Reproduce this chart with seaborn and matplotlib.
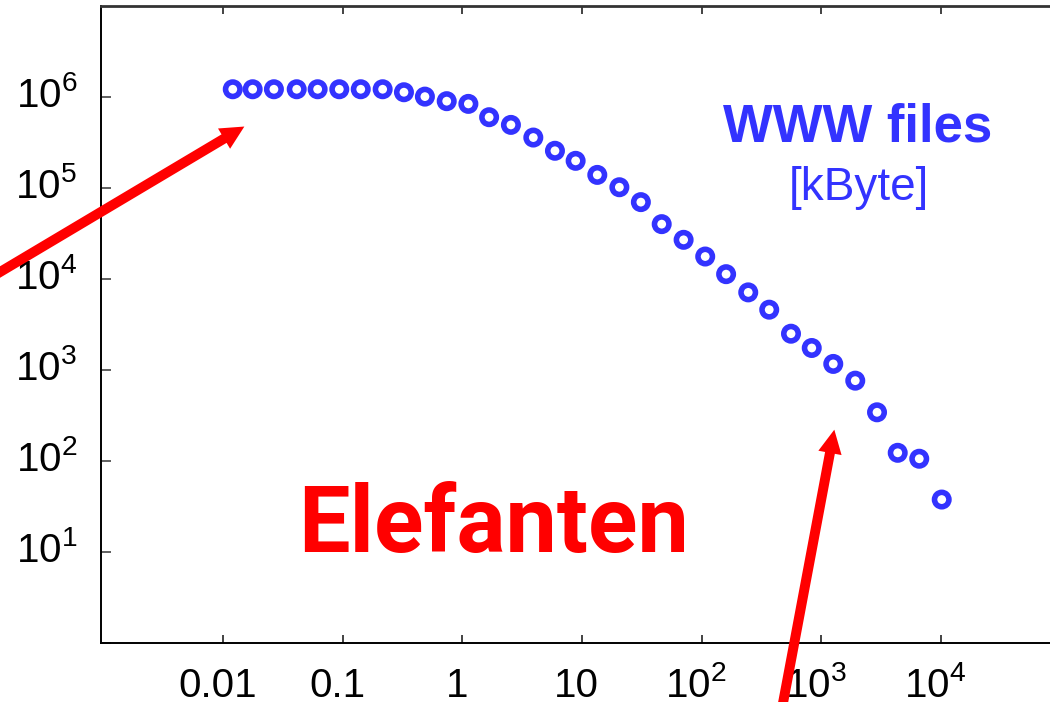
import matplotlib
matplotlib.use("Agg")
import matplotlib.pyplot as plt
from matplotlib.ticker import FixedLocator, NullLocator
from matplotlib.transforms import ScaledTranslation
import seaborn as sns
import pandas as pd

# ---- data ----
file_size_kb = [0.0120, 0.0176, 0.0265, 0.0411, 0.0615, 0.0933, 0.141, 0.215,
                0.324, 0.485, 0.738, 1.12, 1.67, 2.54, 3.91, 5.93, 8.83, 13.4,
                20.5, 31.0, 46.3, 70.6, 107, 160, 245, 367, 558, 832, 1259,
                1923, 2924, 4355, 6592, 10160]
count = [1.205e6, 1.205e6, 1.205e6, 1.205e6, 1.205e6, 1.205e6, 1.205e6, 1.205e6,
         1.117e6, 1.0e6, 8.91e5, 8.32e5, 5.94e5, 4.89e5, 3.55e5, 2.54e5,
         1.97e5, 1.38e5, 1.01e5, 6.93e4, 3.97e4, 2.67e4, 1.75e4, 1.12e4,
         7063, 4560, 2483, 1730, 1156, 757, 340, 122, 105, 37.4]

x_ticks = [0.01, 0.1, 1, 10, 100, 1000, 10000]
x_tick_labels = ["0.01", "0.1", "1", "10", r"$\mathregular{10^{2}}$",
                 r"$\mathregular{10^{3}}$", r"$\mathregular{10^{4}}$"]
y_ticks = [1, 10, 100, 1000, 10000, 100000, 1000000]
y_tick_labels = ["", r"$\mathregular{10^{1}}$", r"$\mathregular{10^{2}}$",
                 r"$\mathregular{10^{3}}$", r"$\mathregular{10^{4}}$",
                 r"$\mathregular{10^{5}}$", r"$\mathregular{10^{6}}$"]

title_text = "WWW files"
unit_text = "[kByte]"
annot_text = "Elefanten"
# arrows: (start, tip) in data coordinates
arrow_left = ((1.0e-4, 9.3e3), (0.015, 4.69e5))
arrow_right = ((443, 0.127), (1285, 219))

BLUE = "#3333ff"
RED = "#ff0000"

sns.set_theme(style="white")
plt.rcParams["font.family"] = ["Liberation Sans", "DejaVu Sans"]
plt.rcParams["mathtext.fontset"] = "custom"
plt.rcParams["mathtext.rm"] = "Liberation Sans"

fig = plt.figure(figsize=(10.5, 7.02), dpi=100)
fig.patch.set_facecolor("white")
ax = fig.add_axes([100.7 / 1050, 1 - 642.7 / 702, (1060.5 - 100.7) / 1050,
                   (642.7 - 5.6) / 702])
ax.set_facecolor("white")

df = pd.DataFrame({"size": file_size_kb, "count": count})
sns.scatterplot(data=df, x="size", y="count", ax=ax, marker="o", s=108,
                facecolor="none", edgecolor=BLUE, linewidth=4.0, zorder=3,
                legend=False)

ax.set_xscale("log")
ax.set_yscale("log")
ax.set_xlim(10 ** -3.025, 10 ** 5.0)
ax.set_ylim(1, 1e7)
ax.set_xlabel("")
ax.set_ylabel("")

ax.xaxis.set_major_locator(FixedLocator(x_ticks))
ax.xaxis.set_minor_locator(NullLocator())
ax.yaxis.set_major_locator(FixedLocator(y_ticks))
ax.yaxis.set_minor_locator(NullLocator())
ax.set_xticklabels(x_tick_labels)
ax.set_yticklabels(y_tick_labels)

ax.tick_params(axis="x", which="major", direction="in", length=6, width=1.2,
               color="#222222", top=True, bottom=True, labelsize=29,
               pad=39, labelcolor="black")
ax.tick_params(axis="y", which="major", direction="in", length=7, width=1.2,
               color="#444444", left=True, right=False, labelsize=29,
               pad=17, labelcolor="black")

for sp in ["left", "bottom"]:
    ax.spines[sp].set_color("black")
    ax.spines[sp].set_linewidth(1.4)
ax.spines["top"].set_color("#333333")
ax.spines["top"].set_linewidth(2.0)
ax.spines["right"].set_visible(False)

for lab in ax.get_xticklabels():
    lab.set_verticalalignment("baseline")
    lab.set_transform(lab.get_transform() +
                      ScaledTranslation(-4 / 72, 0, fig.dpi_scale_trans))
for lab in ax.get_yticklabels():
    lab.set_transform(lab.get_transform() +
                      ScaledTranslation(0, 4 / 72, fig.dpi_scale_trans))

arrow_style = "simple,head_length=1.0,head_width=1.0,tail_width=0.42"
for start, tip in (arrow_left, arrow_right):
    ax.annotate("", xy=tip, xytext=start, xycoords="data", textcoords="data",
                annotation_clip=False, zorder=6,
                arrowprops=dict(arrowstyle=arrow_style, mutation_scale=17,
                                fc=RED, ec="none", shrinkA=0, shrinkB=0))

fig.text(858 / 1050, 1 - 141.7 / 702, title_text, color=BLUE, fontsize=38,
         fontweight="bold", ha="center", va="baseline")
fig.text(859 / 1050, 1 - 200 / 702, unit_text, color=BLUE, fontsize=33,
         ha="center", va="baseline")
fig.text(298 / 1050, 1 - 552 / 702, annot_text, color=RED, fontsize=66,
         fontweight="bold", family=["Roboto", "DejaVu Sans"], ha="left",
         va="baseline")

fig.savefig("out.png", dpi=100, facecolor="white")
